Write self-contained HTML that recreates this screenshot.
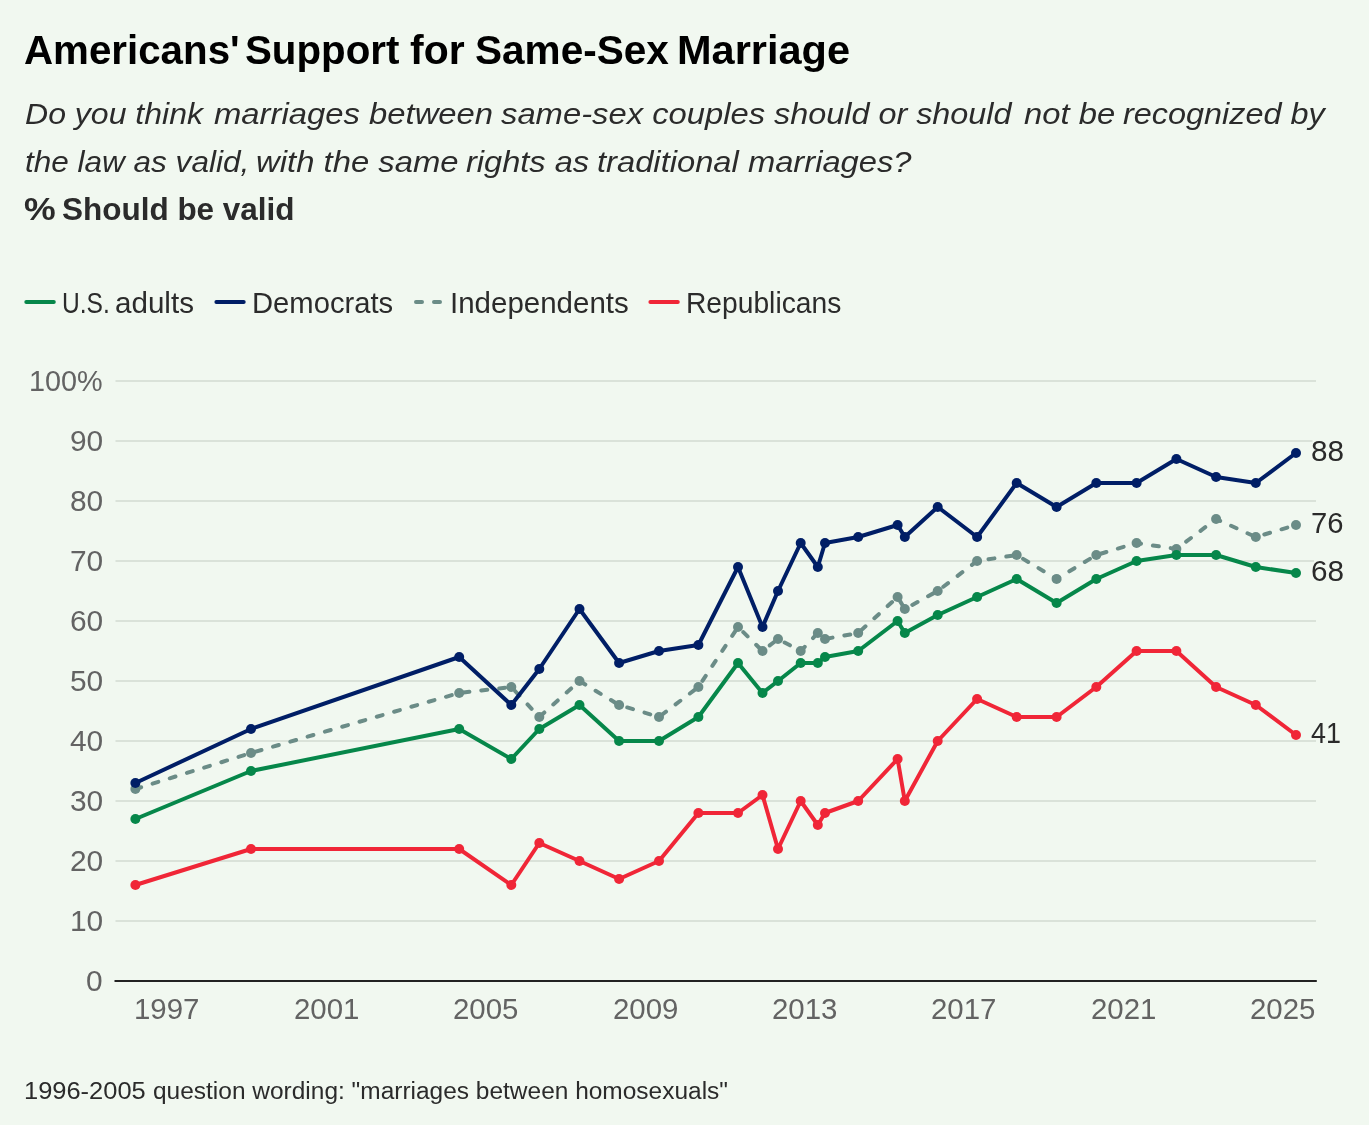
<!DOCTYPE html>
<html lang="en"><head><meta charset="utf-8"><title>Americans' Support for Same-Sex Marriage</title>
<style>
html,body{margin:0;padding:0;}
body{width:1369px;height:1125px;background:#f1f8f0;position:relative;overflow:hidden;font-family:"Liberation Sans",Arial,sans-serif;}
.t{position:absolute;white-space:nowrap;line-height:1;transform-origin:0 0;margin:0;}
svg{position:absolute;left:0;top:0;}
</style></head><body>

<svg width="1369" height="1125" viewBox="0 0 1369 1125">
<line x1="115.5" y1="921.0" x2="1316" y2="921.0" stroke="#dae2d9" stroke-width="2"/>
<line x1="115.5" y1="861.0" x2="1316" y2="861.0" stroke="#dae2d9" stroke-width="2"/>
<line x1="115.5" y1="801.0" x2="1316" y2="801.0" stroke="#dae2d9" stroke-width="2"/>
<line x1="115.5" y1="741.0" x2="1316" y2="741.0" stroke="#dae2d9" stroke-width="2"/>
<line x1="115.5" y1="681.0" x2="1316" y2="681.0" stroke="#dae2d9" stroke-width="2"/>
<line x1="115.5" y1="621.0" x2="1316" y2="621.0" stroke="#dae2d9" stroke-width="2"/>
<line x1="115.5" y1="561.0" x2="1314" y2="561.0" stroke="#dae2d9" stroke-width="2"/>
<line x1="115.5" y1="501.0" x2="1316" y2="501.0" stroke="#dae2d9" stroke-width="2"/>
<line x1="115.5" y1="441.0" x2="1312.5" y2="441.0" stroke="#dae2d9" stroke-width="2"/>
<line x1="115.5" y1="381.0" x2="1316" y2="381.0" stroke="#dae2d9" stroke-width="2"/>
<line x1="114.5" y1="981.0" x2="1316.8" y2="981.0" stroke="#222" stroke-width="2"/>
<line x1="26.3" y1="302" x2="53.8" y2="302" stroke="#06874a" stroke-width="4" stroke-linecap="round"/>
<line x1="216.4" y1="302" x2="243.7" y2="302" stroke="#001e66" stroke-width="4" stroke-linecap="round"/>
<line x1="416" y1="302" x2="441" y2="302" stroke="#6b8c87" stroke-width="4" stroke-linecap="round" stroke-dasharray="6 12"/>
<line x1="650.4" y1="302" x2="677.8" y2="302" stroke="#f02637" stroke-width="4" stroke-linecap="round"/>
<polyline points="135.4,885.0 251.0,849.0 459.2,849.0 511.3,885.0 539.3,843.0 579.5,861.0 619.1,879.0 659.0,861.0 698.4,813.0 738.0,813.0 762.5,795.0 778.0,849.0 800.7,801.0 817.8,825.0 825.0,813.0 858.2,801.0 897.6,759.0 904.8,801.0 937.7,741.0 977.1,699.0 1016.7,717.0 1056.6,717.0 1096.3,687.0 1136.6,651.0 1176.4,651.0 1216.1,687.0 1255.8,705.0 1296.0,735.0" fill="none" stroke="#f02637" stroke-width="4" stroke-linejoin="round" stroke-linecap="round"/><g fill="#f02637"><circle cx="135.4" cy="885.0" r="5"/><circle cx="251.0" cy="849.0" r="5"/><circle cx="459.2" cy="849.0" r="5"/><circle cx="511.3" cy="885.0" r="5"/><circle cx="539.3" cy="843.0" r="5"/><circle cx="579.5" cy="861.0" r="5"/><circle cx="619.1" cy="879.0" r="5"/><circle cx="659.0" cy="861.0" r="5"/><circle cx="698.4" cy="813.0" r="5"/><circle cx="738.0" cy="813.0" r="5"/><circle cx="762.5" cy="795.0" r="5"/><circle cx="778.0" cy="849.0" r="5"/><circle cx="800.7" cy="801.0" r="5"/><circle cx="817.8" cy="825.0" r="5"/><circle cx="825.0" cy="813.0" r="5"/><circle cx="858.2" cy="801.0" r="5"/><circle cx="897.6" cy="759.0" r="5"/><circle cx="904.8" cy="801.0" r="5"/><circle cx="937.7" cy="741.0" r="5"/><circle cx="977.1" cy="699.0" r="5"/><circle cx="1016.7" cy="717.0" r="5"/><circle cx="1056.6" cy="717.0" r="5"/><circle cx="1096.3" cy="687.0" r="5"/><circle cx="1136.6" cy="651.0" r="5"/><circle cx="1176.4" cy="651.0" r="5"/><circle cx="1216.1" cy="687.0" r="5"/><circle cx="1255.8" cy="705.0" r="5"/><circle cx="1296.0" cy="735.0" r="5"/></g>
<polyline points="135.4,789.0 251.0,753.0 459.2,693.0 511.3,687.0 539.3,717.0 579.5,681.0 619.1,705.0 659.0,717.0 698.4,687.0 738.0,627.0 762.5,651.0 778.0,639.0 800.7,651.0 817.8,633.0 825.0,639.0 858.2,633.0 897.6,597.0 904.8,609.0 937.7,591.0 977.1,561.0 1016.7,555.0 1056.6,579.0 1096.3,555.0 1136.6,543.0 1176.4,549.0 1216.1,519.0 1255.8,537.0 1296.0,525.0" fill="none" stroke="#6b8c87" stroke-width="4" stroke-linejoin="round" stroke-linecap="round" stroke-dasharray="6 12"/><g fill="#6b8c87"><circle cx="135.4" cy="789.0" r="5"/><circle cx="251.0" cy="753.0" r="5"/><circle cx="459.2" cy="693.0" r="5"/><circle cx="511.3" cy="687.0" r="5"/><circle cx="539.3" cy="717.0" r="5"/><circle cx="579.5" cy="681.0" r="5"/><circle cx="619.1" cy="705.0" r="5"/><circle cx="659.0" cy="717.0" r="5"/><circle cx="698.4" cy="687.0" r="5"/><circle cx="738.0" cy="627.0" r="5"/><circle cx="762.5" cy="651.0" r="5"/><circle cx="778.0" cy="639.0" r="5"/><circle cx="800.7" cy="651.0" r="5"/><circle cx="817.8" cy="633.0" r="5"/><circle cx="825.0" cy="639.0" r="5"/><circle cx="858.2" cy="633.0" r="5"/><circle cx="897.6" cy="597.0" r="5"/><circle cx="904.8" cy="609.0" r="5"/><circle cx="937.7" cy="591.0" r="5"/><circle cx="977.1" cy="561.0" r="5"/><circle cx="1016.7" cy="555.0" r="5"/><circle cx="1056.6" cy="579.0" r="5"/><circle cx="1096.3" cy="555.0" r="5"/><circle cx="1136.6" cy="543.0" r="5"/><circle cx="1176.4" cy="549.0" r="5"/><circle cx="1216.1" cy="519.0" r="5"/><circle cx="1255.8" cy="537.0" r="5"/><circle cx="1296.0" cy="525.0" r="5"/></g>
<polyline points="135.4,819.0 251.0,771.0 459.2,729.0 511.3,759.0 539.3,729.0 579.5,705.0 619.1,741.0 659.0,741.0 698.4,717.0 738.0,663.0 762.5,693.0 778.0,681.0 800.7,663.0 817.8,663.0 825.0,657.0 858.2,651.0 897.6,621.0 904.8,633.0 937.7,615.0 977.1,597.0 1016.7,579.0 1056.6,603.0 1096.3,579.0 1136.6,561.0 1176.4,555.0 1216.1,555.0 1255.8,567.0 1296.0,573.0" fill="none" stroke="#06874a" stroke-width="4" stroke-linejoin="round" stroke-linecap="round"/><g fill="#06874a"><circle cx="135.4" cy="819.0" r="5"/><circle cx="251.0" cy="771.0" r="5"/><circle cx="459.2" cy="729.0" r="5"/><circle cx="511.3" cy="759.0" r="5"/><circle cx="539.3" cy="729.0" r="5"/><circle cx="579.5" cy="705.0" r="5"/><circle cx="619.1" cy="741.0" r="5"/><circle cx="659.0" cy="741.0" r="5"/><circle cx="698.4" cy="717.0" r="5"/><circle cx="738.0" cy="663.0" r="5"/><circle cx="762.5" cy="693.0" r="5"/><circle cx="778.0" cy="681.0" r="5"/><circle cx="800.7" cy="663.0" r="5"/><circle cx="817.8" cy="663.0" r="5"/><circle cx="825.0" cy="657.0" r="5"/><circle cx="858.2" cy="651.0" r="5"/><circle cx="897.6" cy="621.0" r="5"/><circle cx="904.8" cy="633.0" r="5"/><circle cx="937.7" cy="615.0" r="5"/><circle cx="977.1" cy="597.0" r="5"/><circle cx="1016.7" cy="579.0" r="5"/><circle cx="1056.6" cy="603.0" r="5"/><circle cx="1096.3" cy="579.0" r="5"/><circle cx="1136.6" cy="561.0" r="5"/><circle cx="1176.4" cy="555.0" r="5"/><circle cx="1216.1" cy="555.0" r="5"/><circle cx="1255.8" cy="567.0" r="5"/><circle cx="1296.0" cy="573.0" r="5"/></g>
<polyline points="135.4,783.0 251.0,729.0 459.2,657.0 511.3,705.0 539.3,669.0 579.5,609.0 619.1,663.0 659.0,651.0 698.4,645.0 738.0,567.0 762.5,627.0 778.0,591.0 800.7,543.0 817.8,567.0 825.0,543.0 858.2,537.0 897.6,525.0 904.8,537.0 937.7,507.0 977.1,537.0 1016.7,483.0 1056.6,507.0 1096.3,483.0 1136.6,483.0 1176.4,459.0 1216.1,477.0 1255.8,483.0 1296.0,453.0" fill="none" stroke="#001e66" stroke-width="4" stroke-linejoin="round" stroke-linecap="round"/><g fill="#001e66"><circle cx="135.4" cy="783.0" r="5"/><circle cx="251.0" cy="729.0" r="5"/><circle cx="459.2" cy="657.0" r="5"/><circle cx="511.3" cy="705.0" r="5"/><circle cx="539.3" cy="669.0" r="5"/><circle cx="579.5" cy="609.0" r="5"/><circle cx="619.1" cy="663.0" r="5"/><circle cx="659.0" cy="651.0" r="5"/><circle cx="698.4" cy="645.0" r="5"/><circle cx="738.0" cy="567.0" r="5"/><circle cx="762.5" cy="627.0" r="5"/><circle cx="778.0" cy="591.0" r="5"/><circle cx="800.7" cy="543.0" r="5"/><circle cx="817.8" cy="567.0" r="5"/><circle cx="825.0" cy="543.0" r="5"/><circle cx="858.2" cy="537.0" r="5"/><circle cx="897.6" cy="525.0" r="5"/><circle cx="904.8" cy="537.0" r="5"/><circle cx="937.7" cy="507.0" r="5"/><circle cx="977.1" cy="537.0" r="5"/><circle cx="1016.7" cy="483.0" r="5"/><circle cx="1056.6" cy="507.0" r="5"/><circle cx="1096.3" cy="483.0" r="5"/><circle cx="1136.6" cy="483.0" r="5"/><circle cx="1176.4" cy="459.0" r="5"/><circle cx="1216.1" cy="477.0" r="5"/><circle cx="1255.8" cy="483.0" r="5"/><circle cx="1296.0" cy="453.0" r="5"/></g>
</svg>
<div class="g"><span class="t" style="left:23.53px;top:30px;font-size:41.4px;color:#000;font-weight:700;transform:scaleX(0.9735);">Americans'</span> <span class="t" style="left:244.93px;top:30px;font-size:41.4px;color:#000;font-weight:700;transform:scaleX(0.9732);">Support</span> <span class="t" style="left:409.61px;top:30px;font-size:41.4px;color:#000;font-weight:700;transform:scaleX(0.9889);">for</span> <span class="t" style="left:475.02px;top:30px;font-size:41.4px;color:#000;font-weight:700;transform:scaleX(0.9796);">Same-Sex</span> <span class="t" style="left:676.69px;top:30px;font-size:41.4px;color:#000;font-weight:700;transform:scaleX(1.0030);">Marriage</span></div>
<div class="g"><span class="t" style="left:24.95px;top:98px;font-size:30.4px;color:#2b2b2b;font-style:italic;transform:scaleX(1.0538);">Do you think</span> <span class="t" style="left:214.20px;top:98px;font-size:30.4px;color:#2b2b2b;font-style:italic;transform:scaleX(1.0798);">marriages between</span> <span class="t" style="left:501.10px;top:98px;font-size:30.4px;color:#2b2b2b;font-style:italic;transform:scaleX(1.0783);">same-sex couples</span> <span class="t" style="left:774.10px;top:98px;font-size:30.4px;color:#2b2b2b;font-style:italic;transform:scaleX(1.0652);">should or should</span> <span class="t" style="left:1023.50px;top:98px;font-size:30.4px;color:#2b2b2b;font-style:italic;transform:scaleX(1.0783);">not be</span> <span class="t" style="left:1123.30px;top:98px;font-size:30.4px;color:#2b2b2b;font-style:italic;transform:scaleX(1.0665);">recognized by</span></div>
<div class="g"><span class="t" style="left:24.96px;top:146px;font-size:30.4px;color:#2b2b2b;font-style:italic;transform:scaleX(1.0368);">the law as valid,</span> <span class="t" style="left:255.82px;top:146px;font-size:30.4px;color:#2b2b2b;font-style:italic;transform:scaleX(1.0805);">with the same</span> <span class="t" style="left:465.50px;top:146px;font-size:30.4px;color:#2b2b2b;font-style:italic;transform:scaleX(1.0719);">rights as</span> <span class="t" style="left:596.72px;top:146px;font-size:30.4px;color:#2b2b2b;font-style:italic;transform:scaleX(1.0763);">traditional marriages?</span></div>
<div class="g"><span class="t" style="left:23.77px;top:194px;font-size:31.4px;color:#2b2b2b;font-weight:700;transform:scaleX(1.1346);">%</span> <span class="t" style="left:61.80px;top:194px;font-size:31.4px;color:#2b2b2b;font-weight:700;transform:scaleX(1.0026);">Should be valid</span></div>
<div class="g"><span class="t" style="left:61.93px;top:288px;font-size:29.4px;color:#2b2b2b;transform:scaleX(0.8358);">U.S.</span> <span class="t" style="left:114.79px;top:288px;font-size:29.4px;color:#2b2b2b;transform:scaleX(1.0066);">adults</span></div>
<div class="g"><span class="t" style="left:251.71px;top:288px;font-size:29.4px;color:#2b2b2b;transform:scaleX(0.9935);">Democrats</span></div>
<div class="g"><span class="t" style="left:449.59px;top:288px;font-size:29.4px;color:#2b2b2b;transform:scaleX(1.0034);">Independents</span></div>
<div class="g"><span class="t" style="left:686.08px;top:288px;font-size:29.4px;color:#2b2b2b;transform:scaleX(0.9597);">Republicans</span></div>
<div class="g"><span class="t" style="left:86.15px;top:967px;font-size:29px;color:#636363;transform:scaleX(1.0300);">0</span></div>
<div class="g"><span class="t" style="left:69.67px;top:907px;font-size:29px;color:#636363;transform:scaleX(1.0300);">10</span></div>
<div class="g"><span class="t" style="left:69.67px;top:847px;font-size:29px;color:#636363;transform:scaleX(1.0300);">20</span></div>
<div class="g"><span class="t" style="left:69.67px;top:787px;font-size:29px;color:#636363;transform:scaleX(1.0300);">30</span></div>
<div class="g"><span class="t" style="left:69.67px;top:727px;font-size:29px;color:#636363;transform:scaleX(1.0300);">40</span></div>
<div class="g"><span class="t" style="left:69.67px;top:667px;font-size:29px;color:#636363;transform:scaleX(1.0300);">50</span></div>
<div class="g"><span class="t" style="left:69.67px;top:607px;font-size:29px;color:#636363;transform:scaleX(1.0300);">60</span></div>
<div class="g"><span class="t" style="left:69.67px;top:547px;font-size:29px;color:#636363;transform:scaleX(1.0300);">70</span></div>
<div class="g"><span class="t" style="left:69.67px;top:487px;font-size:29px;color:#636363;transform:scaleX(1.0300);">80</span></div>
<div class="g"><span class="t" style="left:69.67px;top:427px;font-size:29px;color:#636363;transform:scaleX(1.0300);">90</span></div>
<div class="g"><span class="t" style="left:29.31px;top:367px;font-size:29px;color:#636363;transform:scaleX(0.9930);">100%</span></div>
<div class="g"><span class="t" style="left:134.41px;top:995px;font-size:29px;color:#636363;transform:scaleX(1.0150);">1997</span></div>
<div class="g"><span class="t" style="left:294.20px;top:995px;font-size:29px;color:#636363;transform:scaleX(1.0150);">2001</span></div>
<div class="g"><span class="t" style="left:453.48px;top:995px;font-size:29px;color:#636363;transform:scaleX(1.0150);">2005</span></div>
<div class="g"><span class="t" style="left:612.76px;top:995px;font-size:29px;color:#636363;transform:scaleX(1.0150);">2009</span></div>
<div class="g"><span class="t" style="left:772.04px;top:995px;font-size:29px;color:#636363;transform:scaleX(1.0150);">2013</span></div>
<div class="g"><span class="t" style="left:931.32px;top:995px;font-size:29px;color:#636363;transform:scaleX(1.0150);">2017</span></div>
<div class="g"><span class="t" style="left:1090.60px;top:995px;font-size:29px;color:#636363;transform:scaleX(1.0150);">2021</span></div>
<div class="g"><span class="t" style="left:1249.88px;top:995px;font-size:29px;color:#636363;transform:scaleX(1.0150);">2025</span></div>
<div class="g"><span class="t" style="left:1310.78px;top:437px;font-size:29px;color:#2a2a2a;transform:scaleX(1.0233);">88</span></div>
<div class="g"><span class="t" style="left:1310.79px;top:509px;font-size:29px;color:#2a2a2a;transform:scaleX(1.0067);">76</span></div>
<div class="g"><span class="t" style="left:1310.78px;top:557px;font-size:29px;color:#2a2a2a;transform:scaleX(1.0233);">68</span></div>
<div class="g"><span class="t" style="left:1310.87px;top:719px;font-size:29px;color:#2a2a2a;transform:scaleX(0.9267);">41</span></div>
<div class="g"><span class="t" style="left:23.99px;top:1080px;font-size:23px;color:#2b2b2b;transform:scaleX(1.1065);">1996-2005</span></div>
<div class="g"><span class="t" style="left:152.74px;top:1080px;font-size:23px;color:#2b2b2b;transform:scaleX(1.0638);">question wording: "marriages between homosexuals"</span></div>
</body></html>
